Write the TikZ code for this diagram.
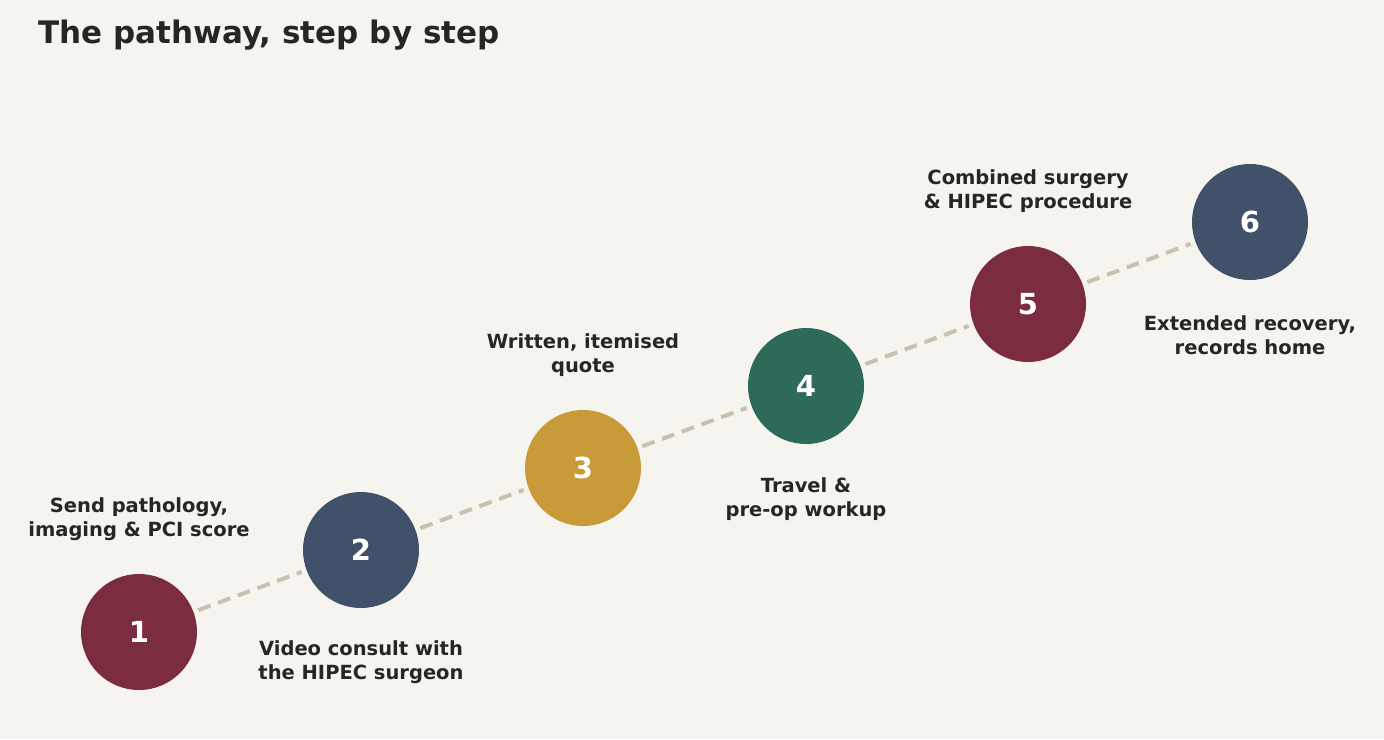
\documentclass[tikz,border=0pt]{standalone}
\usepackage{fontspec}
\setmainfont{DejaVu Sans}
\begin{document}
\begin{tikzpicture}[x=1pt,y=-1pt,
  stepnode/.style={circle,minimum size=116pt,inner sep=0pt,text=white,font=\bfseries\fontsize{29}{29}\selectfont},
  lab/.style={align=center,text=black!85,font=\bfseries\fontsize{19.5}{24}\selectfont},
  link/.style={draw=linkc,line width=4pt,dash pattern=on 13pt off 8pt,shorten >=5pt,shorten <=5pt}]
\definecolor{bg}{HTML}{F5F4EF}
\definecolor{maroon}{HTML}{7B2D3F}
\definecolor{slate}{HTML}{41516A}
\definecolor{gold}{HTML}{C89B38}
\definecolor{green}{HTML}{2D6A5A}
\definecolor{linkc}{HTML}{C8C2AD}
\fill[bg] (0,0) rectangle (1384,739);
\useasboundingbox (0,0) rectangle (1384,739);
\node[anchor=west,text=black!85,font=\bfseries\fontsize{31}{31}\selectfont] (title) at (35,35) {The pathway, step by step};
\node[stepnode,fill=maroon] (s1) at (139,632) {1};
\node[stepnode,fill=slate] (s2) at (361,550) {2};
\node[stepnode,fill=gold] (s3) at (583,468) {3};
\node[stepnode,fill=green] (s4) at (806,386) {4};
\node[stepnode,fill=maroon] (s5) at (1028,304) {5};
\node[stepnode,fill=slate] (s6) at (1250,222) {6};
\draw[link] (s1) -- (s2);
\draw[link] (s2) -- (s3);
\draw[link] (s3) -- (s4);
\draw[link] (s4) -- (s5);
\draw[link] (s5) -- (s6);
\node[lab] (l1) at (139,519) {Send pathology,\\imaging \& PCI score};
\node[lab] (l2) at (361,662) {Video consult with\\the HIPEC surgeon};
\node[lab] (l3) at (583,355) {Written, itemised\\quote};
\node[lab] (l4) at (806,499) {Travel \&\\pre-op workup};
\node[lab] (l5) at (1028,191) {Combined surgery\\\& HIPEC procedure};
\node[lab] (l6) at (1250,335) {Extended recovery,\\records home};
\end{tikzpicture}
\end{document}
